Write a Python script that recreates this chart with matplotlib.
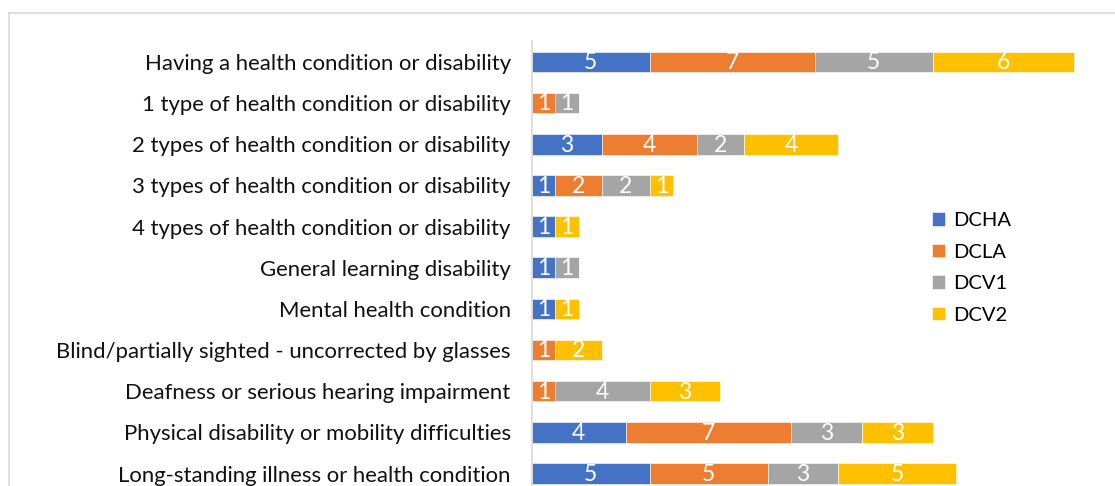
import numpy as np
import matplotlib
matplotlib.use("Agg")
import matplotlib.pyplot as plt
from matplotlib.lines import Line2D

categories = [
    "Having a health condition or disability",
    "1 type of health condition or disability",
    "2 types of health condition or disability",
    "3 types of health condition or disability",
    "4 types of health condition or disability",
    "General learning disability",
    "Mental health condition",
    "Blind/partially sighted - uncorrected by glasses",
    "Deafness or serious hearing impairment",
    "Physical disability or mobility difficulties",
    "Long-standing illness or health condition",
]
series_names = ["DCHA", "DCLA", "DCV1", "DCV2"]
dcha = [5, 0, 3, 1, 1, 1, 1, 0, 0, 4, 5]
dcla = [7, 1, 4, 2, 0, 0, 0, 1, 1, 7, 5]
dcv1 = [5, 1, 2, 2, 0, 1, 0, 0, 4, 3, 3]
dcv2 = [6, 0, 4, 1, 1, 0, 1, 2, 3, 3, 5]
colors = ["#4472C4", "#ED7D31", "#A5A5A5", "#FFC000"]

plt.rcParams['font.family'] = ['Lato', 'DejaVu Sans']

W, H = 1115, 486
fig = plt.figure(figsize=(W / 100, H / 100), dpi=100)

# outer chart frame (cropped on the right and bottom)
fig.add_artist(Line2D([9 / W, 1], [1 - 13.5 / H, 1 - 13.5 / H], color="#d9d9d9", lw=1.2))
fig.add_artist(Line2D([9 / W, 9 / W], [0, 1 - 13.5 / H], color="#d9d9d9", lw=1.2))

ax = fig.add_axes([531.5 / W, 0, 1 - 531.5 / W, (H - 41) / H])

y = np.arange(len(categories))
left = np.zeros(len(categories))
for name, vals, c in zip(series_names, [dcha, dcla, dcv1, dcv2], colors):
    vals = np.array(vals)
    bars = ax.barh(y, vals, left=left, height=0.5, color=c, edgecolor="white",
                   linewidth=0.4, label=name)
    for b, v in zip(bars, vals):
        if v > 0:
            ax.text(b.get_x() + b.get_width() / 2, b.get_y() + b.get_height() / 2 + 0.02, str(v),
                    ha="center", va="center", color="white", fontsize=16.5)
    left += vals

px_per_unit = 23.6
ax.set_xlim(0, (W - 531.5) / px_per_unit)
spacing = 41.15
ax.set_ylim((H - 62) / spacing, (41 - 62) / spacing)

ax.set_yticks(y)
ax.set_yticklabels(categories, fontsize=15.9, color="#111111")
ax.tick_params(axis="y", length=0, pad=15)
ax.set_xticks([])
for s in ["top", "right", "bottom"]:
    ax.spines[s].set_visible(False)
ax.spines["left"].set_color("#d9d9d9")
ax.spines["left"].set_linewidth(1.2)

ax.legend(loc="upper left", bbox_to_anchor=((924 - 531.5) / (W - 531.5), 1 - (204 - 41) / (H - 41)),
          frameon=False, fontsize=14.5, handlelength=0.65, handleheight=0.65,
          handletextpad=0.4, labelspacing=0.72, borderaxespad=0)

fig.savefig("out.png", dpi=100)
